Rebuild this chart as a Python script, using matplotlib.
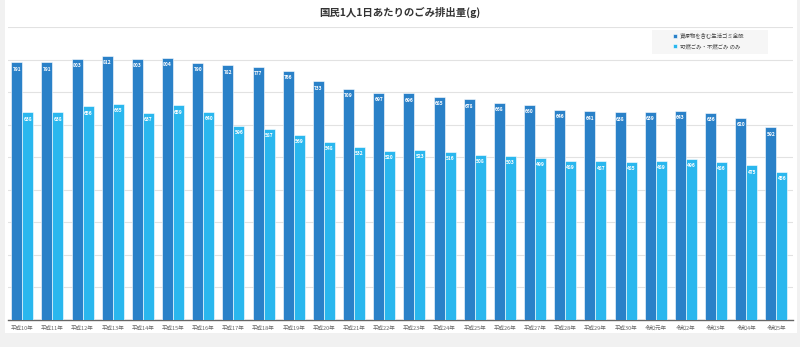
import matplotlib
matplotlib.use("Agg")
import matplotlib.pyplot as plt
import numpy as np
from matplotlib.patches import Rectangle

plt.rcParams['font.family'] = ['Noto Sans CJK JP', 'DejaVu Sans']

years = ["平成10年", "平成11年", "平成12年", "平成13年", "平成14年", "平成15年",
         "平成16年", "平成17年", "平成18年", "平成19年", "平成20年", "平成21年",
         "平成22年", "平成23年", "平成24年", "平成25年", "平成26年", "平成27年",
         "平成28年", "平成29年", "平成30年", "令和元年", "令和2年", "令和3年",
         "令和4年", "令和5年"]
all_waste = [791, 791, 803, 812, 803, 804, 790, 782, 777, 766, 733, 709, 697,
             696, 685, 678, 668, 660, 646, 641, 638, 639, 643, 636, 620, 592]
burn_only = [638, 638, 656, 665, 637, 659, 640, 596, 587, 569, 548, 532, 520,
             523, 516, 508, 503, 499, 489, 487, 485, 489, 496, 486, 475, 456]
names = ["資源物を含む生活ゴミ全般", "可燃ごみ・不燃ごみ のみ"]

dark = "#2a81c8"
light = "#2ab7ee"

W, H = 800, 347
fig = plt.figure(figsize=(8, 3.47), dpi=100)
fig.patch.set_facecolor("#f1f1f1")
# white card behind the chart, gray page around it
fig.patches.append(Rectangle((5 / W, 14 / H), 792 / W, 1 - 14 / H,
                             transform=fig.transFigure, facecolor="white",
                             edgecolor="none", zorder=-10))
ax = fig.add_axes([8 / W, 27 / H, 785 / W, 293 / H])
ax.set_facecolor("white")

x = np.arange(len(years))
w = 0.365
b1 = ax.bar(x - w / 2, all_waste, w, color=dark, edgecolor="white",
            linewidth=0.4, label=names[0], zorder=3)
b2 = ax.bar(x + w / 2, burn_only, w, color=light, edgecolor="white",
            linewidth=0.4, label=names[1], zorder=3)

for bars, vals in ((b1, all_waste), (b2, burn_only)):
    for r, v in zip(bars, vals):
        ax.text(r.get_x() + r.get_width() / 2, v - 13, str(v), ha="center",
                va="top", color="white", fontsize=3.5, fontweight="bold",
                zorder=4)

ax.set_xlim(-0.47, 25.55)
ax.set_ylim(0, 900)
ax.set_yticks(np.arange(0, 901, 100))
ax.yaxis.grid(True, color="#e2e2e2", linewidth=0.8, zorder=0)
ax.set_axisbelow(True)
ax.tick_params(axis="y", left=False, labelleft=False)
ax.set_xticks(x)
ax.set_xticklabels(years, fontsize=4.0, color="#666666")
ax.tick_params(axis="x", length=0, pad=4)
for s in ("top", "right", "left"):
    ax.spines[s].set_visible(False)
ax.spines["bottom"].set_color("#666666")
ax.spines["bottom"].set_linewidth(1.0)

fig.text(0.5, 1 - 12 / H, "国民1人1日あたりのごみ排出量(g)", ha="center",
         va="center", fontsize=7.5, fontweight="bold", color="#333333")

# legend box
ax.add_patch(Rectangle((652 / W, 1 - 54 / H), 116 / W, 24 / H,
                       transform=fig.transFigure, facecolor="#f6f6f6",
                       edgecolor="none", zorder=4, clip_on=False))
leg = ax.legend(loc="upper left", bbox_to_anchor=(673 / W, 1 - 33 / H),
                bbox_transform=fig.transFigure, fontsize=3.9, frameon=False,
                handlelength=0.7, handleheight=0.7, handletextpad=0.5,
                labelspacing=0.9, borderpad=0, borderaxespad=0)
for t in leg.get_texts():
    t.set_color("#444444")
leg.set_zorder(5)

fig.savefig("out.png", dpi=100, facecolor=fig.get_facecolor())
